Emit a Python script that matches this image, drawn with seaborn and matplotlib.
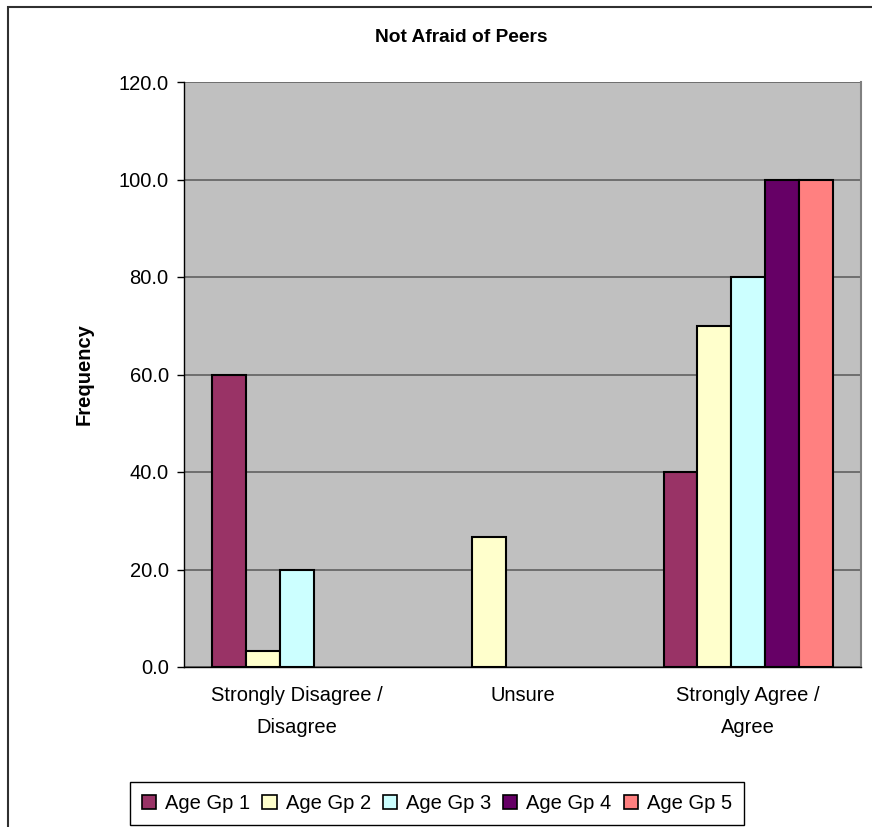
import matplotlib
matplotlib.use("Agg")
import matplotlib.pyplot as plt
from matplotlib.patches import Rectangle, Patch
import seaborn as sns
import pandas as pd

# Survey responses, percent of each age group
categories = ["Strongly Disagree /\nDisagree", "Unsure", "Strongly Agree /\nAgree"]
groups = ["Age Gp 1", "Age Gp 2", "Age Gp 3", "Age Gp 4", "Age Gp 5"]
gp1 = [60.0, 0.0, 40.0]
gp2 = [3.3, 26.7, 70.0]
gp3 = [20.0, 0.0, 80.0]
gp4 = [0.0, 0.0, 100.0]
gp5 = [0.0, 0.0, 100.0]
colors = ["#993366", "#FFFFCC", "#CCFFFF", "#660066", "#FF8080"]
yticks = [0, 20, 40, 60, 80, 100, 120]

df = pd.DataFrame({
    "Response": categories * 5,
    "Group": sum([[g] * 3 for g in groups], []),
    "Frequency": gp1 + gp2 + gp3 + gp4 + gp5,
})

sns.set_theme(style="white")
plt.rcParams["font.family"] = ["Liberation Sans", "DejaVu Sans"]
plt.rcParams["text.color"] = "black"
plt.rcParams["xtick.color"] = "black"
plt.rcParams["ytick.color"] = "black"
plt.rcParams["axes.labelcolor"] = "black"

FS = 14.5

fig = plt.figure(figsize=(8.72, 8.27), dpi=100)
ax = fig.add_axes([184 / 872, 1 - 667 / 827, (861 - 184) / 872, (667 - 82) / 827])
ax.set_facecolor("#C0C0C0")

sns.barplot(data=df, x="Response", y="Frequency", hue="Group", order=categories,
            hue_order=groups, palette=colors, width=0.75, edgecolor="black",
            linewidth=1.5, saturation=1, ax=ax, legend=False, zorder=3)

# empty cells draw no outline
for bar in ax.patches:
    if bar.get_height() == 0:
        bar.set_linewidth(0)

ax.set_xlim(-0.5, 2.5)
ax.set_ylim(0, 120)
ax.set_yticks(yticks)
ax.set_yticklabels([f"{v:.1f}" for v in yticks], fontsize=FS)
ax.yaxis.grid(True, color="#606060", linewidth=1.2, zorder=0)
ax.set_axisbelow(True)

ax.set_xticks(range(len(categories)))
ax.set_xticklabels(categories, fontsize=FS, linespacing=1.85)
ax.set_xticks([-0.5, 0.5, 1.5, 2.5], minor=True)
ax.tick_params(axis="x", which="major", length=0, pad=14)
ax.tick_params(axis="x", which="minor", length=5, width=1, color="black", direction="out")
ax.tick_params(axis="y", length=5, width=1, color="black", direction="out", left=True, pad=6)

ax.spines["top"].set_visible(False)
ax.spines["right"].set_color("#808080")
ax.spines["right"].set_linewidth(1.5)
ax.spines["left"].set_color("black")
ax.spines["bottom"].set_color("black")
ax.spines["left"].set_linewidth(1)
ax.spines["bottom"].set_linewidth(1)

ax.set_xlabel("")
ax.set_ylabel("Frequency", fontsize=FS, fontweight="bold", labelpad=18)

fig.text(461 / 872, 1 - 38 / 827, "Not Afraid of Peers", ha="center", va="center",
         fontsize=13.8, fontweight="bold")

# Chart frame
fig.patches.append(Rectangle((8 / 872, -0.1), 1.2, 1 - 7 / 827 + 0.1,
                             transform=fig.transFigure, fill=False,
                             edgecolor="#303030", linewidth=1.5))

handles = [Patch(facecolor=c, edgecolor="black", linewidth=1.2) for c in colors]
fig.legend(handles, groups, loc="lower left",
           bbox_to_anchor=(130 / 872, 1 - 825 / 827), ncol=5, frameon=True,
           fancybox=False, edgecolor="black", fontsize=FS, handlelength=0.7,
           handleheight=0.7, handletextpad=0.45, columnspacing=0.6,
           borderpad=0.6, borderaxespad=0, framealpha=1)
fig.legends[0].get_frame().set_linewidth(1)

fig.savefig("out.png", dpi=100, facecolor="white")
